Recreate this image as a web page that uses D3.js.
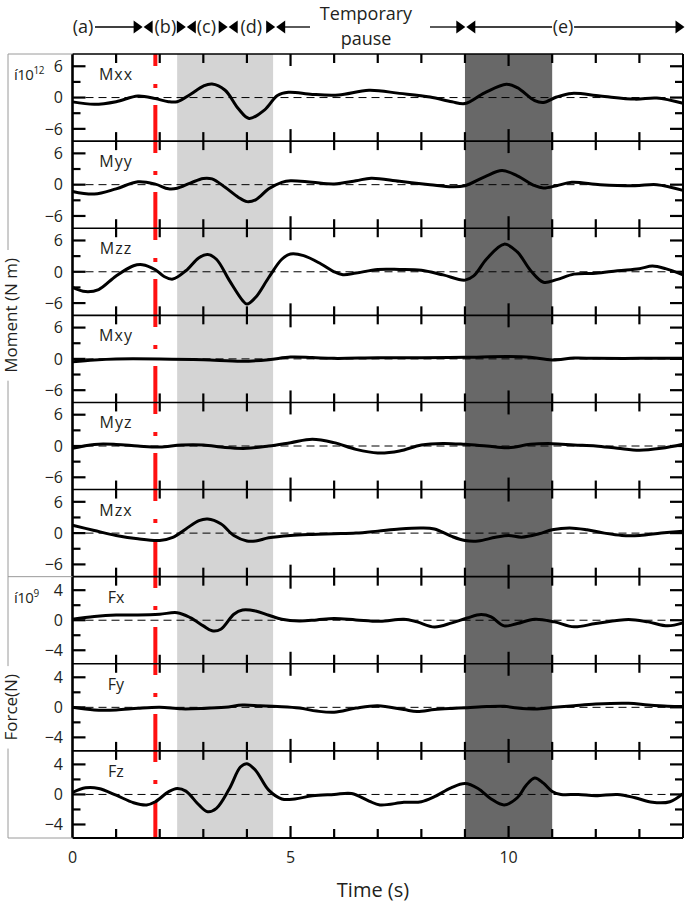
<!DOCTYPE html>
<html><head><meta charset="utf-8">
<script src="https://cdn.jsdelivr.net/npm/d3@7"></script>
<style>
body{margin:0;background:#fff}
text{font-family:"Open Sans","Noto Sans",sans-serif;fill:#231f20}
</style></head>
<body><svg id="c" width="685" height="903"></svg>
<script>
// ---------------- data ----------------
const seriesNames = ["Mxx","Myy","Mzz","Mxy","Myz","Mzx","Fx","Fy","Fz"];
const mxx = [[0,-0.83],[0.5,-1.3],[1.0,-0.8],[1.5,0.3],[1.9,-0.2],[2.2,-0.8],[2.4,-0.8],[2.7,0.6],[3.0,2.2],[3.2,2.6],[3.5,1.4],[3.8,-2.1],[4.05,-4.0],[4.4,-2.4],[4.7,0.4],[4.95,1.0],[5.5,0.6],[6.1,0.5],[6.8,1.4],[7.5,0.8],[8.2,0.1],[8.7,-0.8],[9.0,-1.15],[9.45,0.9],[9.95,2.55],[10.2,1.9],[10.6,-0.6],[10.8,-0.95],[11.1,0.1],[11.45,0.8],[12.1,0.3],[12.9,-0.3],[13.4,-0.1],[14,-1.1]];
const myy = [[0,-1.3],[0.5,-1.8],[1.0,-0.8],[1.5,0.55],[1.9,0.1],[2.2,-0.8],[2.4,-0.7],[2.7,0.3],[3.0,1.2],[3.2,1.1],[3.5,-0.5],[3.8,-2.4],[4.0,-3.25],[4.2,-2.9],[4.5,-0.8],[4.8,0.45],[5.0,0.75],[5.5,0.45],[6.0,0.15],[6.5,0.75],[6.85,1.25],[7.5,0.65],[8.2,0],[8.7,-0.4],[9.0,-0.2],[9.45,1.5],[9.85,2.7],[10.2,1.7],[10.6,-0.2],[10.8,-0.65],[11.1,-0.2],[11.45,0.45],[12.1,0],[12.9,-0.2],[13.4,0],[14,-1.1]];
const mzz = [[0,-3.0],[0.3,-3.8],[0.6,-3.4],[1.0,-0.8],[1.4,1.15],[1.6,1.35],[1.9,0.4],[2.1,-0.9],[2.3,-1.4],[2.6,0.2],[2.9,2.7],[3.1,3.3],[3.3,2.4],[3.6,-1.7],[3.9,-5.5],[4.0,-6.2],[4.2,-4.9],[4.5,-1.1],[4.8,2.4],[5.0,3.4],[5.3,3.1],[5.7,1.5],[6.0,0],[6.2,-0.55],[6.5,-0.25],[7.0,0.45],[7.5,0.45],[8.0,0.3],[8.5,-0.6],[9.0,-1.6],[9.2,-0.8],[9.5,2.5],[9.9,5.3],[10.2,3.8],[10.5,0.3],[10.8,-2.0],[11.1,-1.5],[11.5,-0.45],[12.0,-0.3],[12.5,0.2],[13.0,0.6],[13.3,1.1],[13.6,0.6],[14,-0.6]];
const mxy = [[0,-0.55],[0.5,-0.2],[1,0],[2,0],[3,-0.15],[3.9,-0.45],[4.5,-0.15],[5,0.35],[5.5,0.25],[6,0.1],[7,0.2],[8,0.2],[9,0.3],[10,0.45],[10.5,0.3],[11,-0.2],[11.5,0.15],[12,0.1],[13,0.1],[14,0.1]];
const myz = [[0,-0.45],[0.5,0.3],[1.0,0.3],[1.5,0],[2.0,-0.2],[2.5,0.2],[3.0,0.2],[3.5,-0.3],[4.0,-0.45],[4.5,0],[5.0,0.64],[5.5,1.3],[6.0,0.64],[6.5,-0.64],[7.0,-1.34],[7.5,-0.96],[8.0,0.2],[8.5,0.5],[9.0,0.32],[9.5,0],[10.0,-0.32],[10.5,0.32],[11.0,0.45],[11.5,0.2],[12.0,0],[12.5,-0.45],[13.0,-0.83],[13.5,-0.45],[14.0,0.32]];
const mzx = [[0,1.5],[0.5,0.5],[1.0,-0.45],[1.5,-1.1],[2.0,-1.4],[2.3,-0.8],[2.6,0.8],[2.9,2.4],[3.1,2.7],[3.4,1.8],[3.7,-0.45],[4.0,-1.5],[4.2,-1.5],[4.5,-0.9],[5.0,-0.45],[5.5,-0.25],[6.0,-0.13],[6.5,0],[7.0,0.38],[7.5,0.8],[8.0,1.0],[8.3,0.8],[8.7,-0.64],[9.0,-1.4],[9.3,-1.5],[9.7,-0.8],[10.0,-0.45],[10.3,-0.77],[10.7,-0.13],[11.0,0.64],[11.4,1.0],[11.8,0.64],[12.2,0],[12.6,-0.45],[13.0,-0.45],[13.5,0],[14.0,0.38]];
const fx = [[0,0.13],[0.5,0.5],[1.0,0.7],[1.5,0.7],[2.0,0.8],[2.4,1.0],[2.7,0.35],[3.0,-0.75],[3.2,-1.4],[3.4,-1.2],[3.7,0.8],[3.9,1.36],[4.2,1.23],[4.5,0.66],[4.8,0.13],[5.2,-0.1],[5.6,0.04],[6.0,0.22],[6.5,0.04],[7.05,-0.15],[7.6,0.13],[7.9,-0.22],[8.3,-0.9],[8.7,-0.35],[9.05,0.3],[9.37,0.75],[9.6,0.44],[9.9,-0.75],[10.2,-0.44],[10.6,0.13],[11.05,-0.22],[11.5,-0.88],[12.0,-0.44],[12.75,0.1],[13.2,-0.22],[13.65,-0.75],[14.0,-0.35]];
const fy = [[0,0],[0.5,-0.35],[1.0,-0.35],[1.5,-0.13],[2.0,0],[2.5,-0.2],[3.0,-0.15],[3.5,0],[3.9,0.3],[4.3,0.2],[4.7,0.1],[5.2,-0.1],[5.6,-0.5],[6.0,-0.66],[6.5,-0.1],[7.0,0.22],[7.6,-0.3],[7.9,-0.55],[8.3,-0.3],[8.7,-0.15],[9.05,-0.05],[9.5,0.1],[9.9,0.13],[10.2,-0.1],[10.6,-0.22],[11.05,0],[11.5,0.22],[12.0,0.44],[12.75,0.53],[13.2,0.3],[13.65,0.13],[14.0,0.1]];
const fz = [[0,0.26],[0.3,0.88],[0.6,0.8],[1.0,-0.1],[1.4,-1.1],[1.7,-1.4],[1.9,-0.97],[2.2,0.35],[2.4,0.8],[2.6,0.44],[2.9,-1.4],[3.1,-2.3],[3.3,-1.85],[3.6,0.8],[3.85,3.65],[4.0,4.1],[4.2,3.2],[4.5,0.57],[4.8,-0.6],[5.1,-0.6],[5.5,-0.18],[6.0,0],[6.4,0.13],[6.8,-0.88],[7.05,-1.4],[7.6,-1.05],[8.0,-0.97],[8.3,-0.3],[8.68,0.88],[9.0,1.45],[9.3,0.8],[9.6,-0.6],[9.9,-1.4],[10.2,-0.44],[10.4,1.2],[10.6,2.2],[10.8,1.5],[11.0,0.4],[11.2,0],[11.6,0],[12.0,-0.18],[12.5,0],[12.9,-0.44],[13.3,-1.05],[13.7,-0.97],[14.0,0.1]];
const seriesData = [mxx,myy,mzz,mxy,myz,mzx,fx,fy,fz];
const momentTicks = [-6,0,6];
const momentMinor = [-3,3];
const forceTicks = [-4,0,4];
const forceMinor = [-2,2];
const timeTicks = [0,5,10];
const lightBand = [2.4,4.6];
const darkBand = [9.0,11.0];
const eventTime = 1.9;
const phaseLabels = [{t:0.24,label:"(a)"},{t:2.13,label:"(b)"},{t:3.07,label:"(c)"},{t:4.1,label:"(d)"},{t:11.25,label:"(e)"}];
const phaseBounds = [1.62,2.61,3.57,4.66,9.02];

// ---------------- layout ----------------
const svg = d3.select("#c");
const top0 = 54, bottom0 = 838;
const nP = seriesNames.length;
const ph = (bottom0 - top0) / nP;
const x = d3.scaleLinear().domain([0,14]).range([72.5,683]);
const isForce = i => i >= 6;

svg.append("rect").attr("x",x(lightBand[0])).attr("y",top0).attr("width",x(lightBand[1])-x(lightBand[0])).attr("height",bottom0-top0).attr("fill","#d4d4d4");
svg.append("rect").attr("x",x(darkBand[0])).attr("y",top0).attr("width",x(darkBand[1])-x(darkBand[0])).attr("height",bottom0-top0).attr("fill","#686868");

svg.append("line").attr("x1",x(eventTime)).attr("x2",x(eventTime)).attr("y1",top0).attr("y2",bottom0)
  .attr("stroke","#ff1010").attr("stroke-width",4).attr("stroke-dasharray","48,18,4,17").attr("stroke-dashoffset",36);

const line = d3.line().curve(d3.curveCatmullRom.alpha(0.5));

for (let i=0;i<nP;i++){
  const pt = top0 + i*ph, pb = pt + ph;
  const half = isForce(i) ? 5.8 : 8.35;
  const y = d3.scaleLinear().domain([-half,half]).range([pb,pt]);
  const g = svg.append("g");
  g.append("line").attr("x1",x(0)).attr("x2",x(14)).attr("y1",y(0)).attr("y2",y(0))
    .attr("stroke","#000").attr("stroke-width",1).attr("stroke-dasharray","8,5");
  g.append("path").attr("d",line(seriesData[i].map(d=>[x(d[0]),y(d[1])])))
    .attr("fill","none").attr("stroke","#000").attr("stroke-width",3).attr("stroke-linejoin","round");
  const maj = isForce(i)?forceTicks:momentTicks, mn = isForce(i)?forceMinor:momentMinor;
  maj.forEach(v=>{
    g.append("line").attr("x1",x(0)).attr("x2",x(0)+13).attr("y1",y(v)).attr("y2",y(v)).attr("stroke","#000").attr("stroke-width",2.2);
    g.append("line").attr("x1",x(14)).attr("x2",x(14)-13).attr("y1",y(v)).attr("y2",y(v)).attr("stroke","#000").attr("stroke-width",2.2);
    g.append("text").attr("x",63).attr("y",y(v)).attr("dy","0.36em").attr("text-anchor","end").attr("font-size",16)
      .text(v<0?"\u2212"+Math.abs(v):String(v));
  });
  mn.forEach(v=>{
    g.append("line").attr("x1",x(0)).attr("x2",x(0)+8).attr("y1",y(v)).attr("y2",y(v)).attr("stroke","#000").attr("stroke-width",2.2);
    g.append("line").attr("x1",x(14)).attr("x2",x(14)-8).attr("y1",y(v)).attr("y2",y(v)).attr("stroke","#000").attr("stroke-width",2.2);
  });
  d3.range(1,14).forEach(t=>{
    const L = timeTicks.includes(t) ? 12 : 9;
    g.append("line").attr("x1",x(t)).attr("x2",x(t)).attr("y1",pt).attr("y2",pt+L).attr("stroke","#000").attr("stroke-width",2.2);
    g.append("line").attr("x1",x(t)).attr("x2",x(t)).attr("y1",pb).attr("y2",pb-L).attr("stroke","#000").attr("stroke-width",2.2);
  });
  g.append("line").attr("x1",x(0)).attr("x2",x(14)).attr("y1",pt).attr("y2",pt).attr("stroke","#000").attr("stroke-width",1.6);
  g.append("text").attr("x",116).attr("y",pt+26).attr("text-anchor","middle").attr("font-size",16)
    .attr("letter-spacing", isForce(i)?0:1).text(seriesNames[i]);
}
svg.append("line").attr("x1",x(0)).attr("x2",x(14)).attr("y1",bottom0).attr("y2",bottom0).attr("stroke","#000").attr("stroke-width",2);
svg.append("line").attr("x1",x(0)).attr("x2",x(0)).attr("y1",top0).attr("y2",bottom0).attr("stroke","#000").attr("stroke-width",2.6);
svg.append("line").attr("x1",x(14)).attr("x2",x(14)).attr("y1",top0).attr("y2",bottom0).attr("stroke","#000").attr("stroke-width",2);

function expo(yb, base, sup){
  const t = svg.append("text").attr("x",14).attr("y",yb).attr("font-size",15).attr("letter-spacing",-0.5);
  t.append("tspan").text(base);
  t.append("tspan").attr("font-size",10).attr("dy",-6).text(sup);
}
expo(top0+26, "\u00ed10", "12");
expo(top0+6*ph+26, "\u00ed10", "9");

timeTicks.forEach(t=>{
  svg.append("text").attr("x",x(t)).attr("y",863).attr("text-anchor","middle").attr("font-size",16).text(t);
});
svg.append("text").attr("x",373).attr("y",897).attr("text-anchor","middle").attr("font-size",20).text("Time (s)");

const gray = "#9a9a9a";
[top0, top0+6*ph, bottom0].forEach(yy=>{
  svg.append("line").attr("x1",8).attr("x2",x(0)).attr("y1",yy).attr("y2",yy).attr("stroke",gray).attr("stroke-width",1);
});
svg.append("line").attr("x1",8).attr("x2",8).attr("y1",top0).attr("y2",bottom0).attr("stroke",gray).attr("stroke-width",1);
function groupLabel(cy, txt){
  const t = svg.append("text").attr("transform",`translate(11,${cy}) rotate(-90)`).attr("text-anchor","middle")
    .attr("dy","0.35em").attr("font-size",17).text(txt);
  const bb = t.node().getBBox();
  svg.insert("rect", () => t.node()).attr("x",2).attr("y",cy - bb.width/2 - 8).attr("width",18).attr("height",bb.width+16).attr("fill","#fff");
}
groupLabel((top0 + top0+6*ph)/2, "Moment (N m)");
groupLabel((top0+6*ph + bottom0)/2, "Force(N)");

const ay = 27;
const ann = svg.append("g");
function tri(tipX, dir){
  const L = 9, h = 6.5;
  ann.append("path").attr("d",`M${tipX},${ay} L${tipX - dir*L},${ay-h} L${tipX - dir*L},${ay+h} Z`).attr("fill","#000");
}
function seg(a,b){ ann.append("line").attr("x1",a).attr("x2",b).attr("y1",ay).attr("y2",ay).attr("stroke","#000").attr("stroke-width",1.3); }
phaseBounds.forEach(b=>{ tri(x(b)-0.5,1); tri(x(b)+0.5,-1); });
seg(x(phaseLabels[0].t)+12, x(phaseBounds[0])-8);
seg(x(phaseBounds[3])+8, 310);
seg(430, x(phaseBounds[4])-8);
seg(x(phaseBounds[4])+8, x(phaseLabels[4].t)-11);
seg(x(phaseLabels[4].t)+11, x(14)-6);
tri(x(14)+1.5, 1);
phaseLabels.forEach(p=>{
  ann.append("text").attr("x",x(p.t)).attr("y",ay).attr("dy","0.36em").attr("text-anchor","middle").attr("font-size",18).text(p.label);
});
ann.append("text").attr("x",366).attr("y",20).attr("text-anchor","middle").attr("font-size",18).text("Temporary");
ann.append("text").attr("x",366).attr("y",45).attr("text-anchor","middle").attr("font-size",18).text("pause");
</script></body></html>
